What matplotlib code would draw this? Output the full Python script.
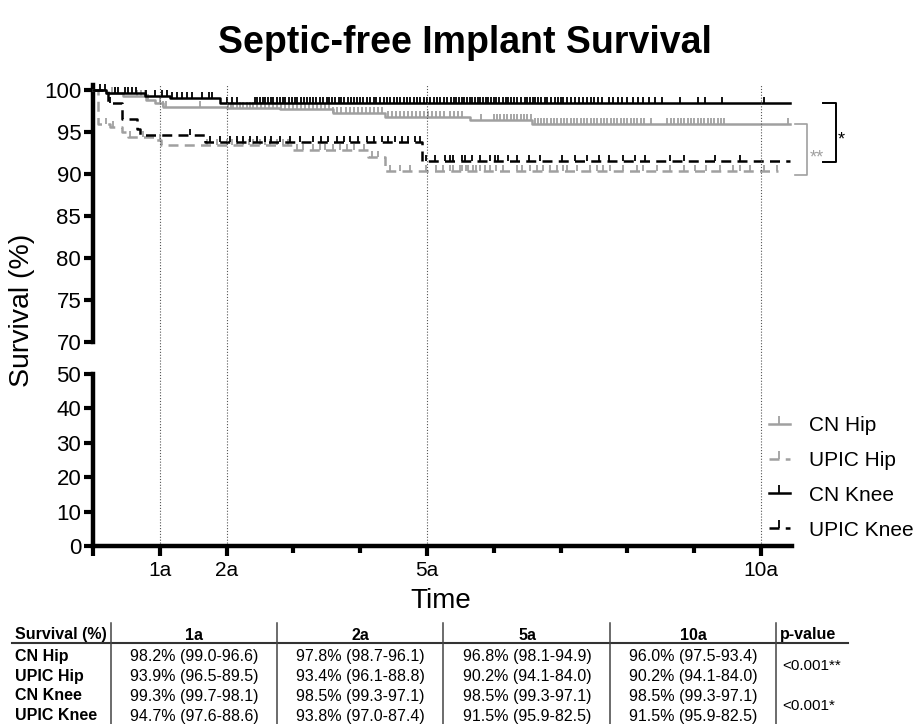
import matplotlib
matplotlib.use('Agg')
import matplotlib.pyplot as plt
from matplotlib.lines import Line2D
from matplotlib.transforms import blended_transform_factory
import numpy as np

plt.rcParams['font.family'] = ['Liberation Sans', 'DejaVu Sans']

# ---------------- data ----------------
groups = ['CN Hip', 'UPIC Hip', 'CN Knee', 'UPIC Knee']

cn_hip_t = [0, 0.20, 0.45, 0.80, 0.93, 1.05, 2.00, 2.80, 3.60, 4.37, 5.64, 6.57, 10.43]
cn_hip_s = [100, 99.6, 99.3, 98.8, 98.4, 98.0, 97.85, 97.7, 97.3, 96.8, 96.4, 96.0, 96.0]
cn_hip_c = [0.28, 0.33, 0.66, 0.72, 0.78, 0.83, 1.00, 1.05, 1.10, 1.60, 2.02, 2.06, 2.10, 2.15, 2.20,
            2.25, 2.30, 2.35, 2.40, 2.46, 2.52, 2.58, 2.64, 2.70, 2.76, 2.82, 2.88, 2.94, 3.00, 3.06,
            3.12, 3.18, 3.24, 3.30, 3.36, 3.42, 3.48, 3.54, 3.60, 3.66, 3.72, 3.78, 3.84, 3.90, 3.96,
            4.02, 4.08, 4.14, 4.20, 4.26, 4.32, 4.42, 4.48, 4.54, 4.60, 4.66, 4.72, 4.78, 4.84, 4.90,
            4.96, 5.02, 5.08, 5.14, 5.20, 5.26, 5.34, 5.40, 5.46, 5.52, 5.81, 6.00, 6.05, 6.10, 6.15,
            6.20, 6.25, 6.30, 6.35, 6.40, 6.45, 6.50, 6.55, 6.62, 6.66, 6.70, 6.75, 6.80, 6.85, 6.90,
            6.95, 7.00, 7.05, 7.10, 7.15, 7.20, 7.25, 7.30, 7.35, 7.40, 7.45, 7.50, 7.55, 7.60, 7.65,
            7.70, 7.75, 7.80, 7.85, 7.90, 7.95, 8.00, 8.05, 8.10, 8.15, 8.20, 8.25, 8.35, 8.60, 8.65,
            8.70, 8.75, 8.80, 8.85, 8.90, 8.95, 9.00, 9.05, 9.10, 9.15, 9.20, 9.25, 9.30, 9.35, 9.40,
            9.45, 10.40]

upic_hip_t = [0, 0.07, 0.25, 0.43, 0.52, 0.93, 1.02, 3.00, 4.12, 4.37, 10.25]
upic_hip_s = [100, 96.0, 95.6, 95.0, 94.4, 94.0, 93.4, 92.9, 92.0, 90.3, 90.3]
upic_hip_c = [0.20, 0.30, 0.55, 0.75, 1.00, 1.70, 1.85, 2.00, 2.08, 2.15, 2.25, 2.33, 2.40, 2.50, 2.57,
              2.65, 2.75, 2.85, 2.92, 3.05, 3.15, 3.30, 3.40, 3.47, 3.60, 3.70, 3.80, 3.90, 4.05, 4.17,
              4.27, 4.45, 4.60, 4.75, 4.99, 5.14, 5.24, 5.34, 5.39, 5.49, 5.52, 5.59, 5.62, 5.69, 5.74,
              5.79, 5.87, 5.94, 6.04, 6.14, 6.34, 6.42, 6.54, 6.64, 6.74, 6.84, 6.94, 7.04, 7.09, 7.24,
              7.44, 7.54, 7.64, 7.74, 7.94, 8.14, 8.24, 8.44, 8.64, 8.84, 9.01, 9.18, 9.38, 9.58, 9.69,
              9.83, 10.04, 10.24]

cn_knee_t = [0, 0.20, 0.78, 1.15, 1.90, 10.43]
cn_knee_s = [100, 99.7, 99.3, 99.0, 98.5, 98.5]
cn_knee_c = [0.10, 0.18, 0.33, 0.38, 0.48, 0.53, 0.58, 0.65, 0.80, 0.93, 1.03, 1.11, 1.18, 1.25, 1.33,
             1.40, 1.48, 1.63, 1.73, 1.78, 2.00, 2.08, 2.15, 2.42, 2.46, 2.50, 2.55, 2.58, 2.62, 2.66,
             2.70, 2.75, 2.80, 2.84, 2.88, 2.93, 2.98, 3.02, 3.06, 3.12, 3.16, 3.20, 3.25, 3.30, 3.34,
             3.40, 3.45, 3.50, 3.54, 3.58, 3.63, 3.68, 3.72, 3.76, 3.82, 3.86, 3.90, 3.95, 4.00, 4.04,
             4.10, 4.14, 4.20, 4.24, 4.30, 4.35, 4.40, 4.45, 4.50, 4.55, 4.60, 4.65, 4.70, 4.75, 4.80,
             4.85, 4.90, 4.95, 5.00, 5.05, 5.10, 5.15, 5.20, 5.25, 5.30, 5.36, 5.40, 5.44, 5.48, 5.52,
             5.56, 5.60, 5.64, 5.68, 5.72, 5.76, 5.80, 5.84, 5.88, 5.92, 5.96, 6.00, 6.04, 6.08, 6.14,
             6.18, 6.22, 6.26, 6.30, 6.34, 6.40, 6.46, 6.50, 6.54, 6.58, 6.62, 6.66, 6.70, 6.76, 6.80,
             6.86, 6.92, 6.96, 7.00, 7.04, 7.10, 7.16, 7.22, 7.28, 7.34, 7.40, 7.46, 7.50, 7.56, 7.62,
             7.72, 7.78, 7.86, 7.92, 8.00, 8.08, 8.16, 8.24, 8.32, 8.42, 8.52, 8.79, 9.06, 9.16, 9.41,
             10.04]

upic_knee_t = [0, 0.22, 0.44, 0.66, 0.70, 1.68, 4.92, 10.43]
upic_knee_s = [100, 98.4, 96.5, 95.4, 94.7, 93.8, 91.5, 91.5]
upic_knee_c = [0.25, 1.45, 1.75, 1.90, 2.05, 2.15, 2.25, 2.35, 2.45, 2.57, 2.67, 2.80, 2.95, 3.10, 3.30,
               3.42, 3.52, 3.65, 3.75, 3.85, 3.97, 4.10, 4.20, 4.32, 4.42, 4.52, 4.62, 4.72, 4.82, 4.90,
               4.99, 5.12, 5.27, 5.34, 5.39, 5.52, 5.57, 5.67, 5.79, 5.94, 6.02, 6.07, 6.22, 6.34, 6.52,
               6.69, 7.02, 7.22, 7.40, 7.57, 7.72, 7.94, 8.12, 8.27, 8.64, 8.84, 9.31, 9.69]

x_major = [0, 1, 2, 5, 10]
x_major_labels = ['', '1a', '2a', '5a', '10a']
x_minor = [3, 4, 6, 7, 8, 9]
y_upper_ticks = [70, 75, 80, 85, 90, 95, 100]
y_lower_ticks = [0, 10, 20, 30, 40, 50]

table_cols = ['Survival (%)', '1a', '2a', '5a', '10a', 'p-value']
table_rows = [
    ['CN Hip', '98.2% (99.0-96.6)', '97.8% (98.7-96.1)', '96.8% (98.1-94.9)', '96.0% (97.5-93.4)'],
    ['UPIC Hip', '93.9% (96.5-89.5)', '93.4% (96.1-88.8)', '90.2% (94.1-84.0)', '90.2% (94.1-84.0)'],
    ['CN Knee', '99.3% (99.7-98.1)', '98.5% (99.3-97.1)', '98.5% (99.3-97.1)', '98.5% (99.3-97.1)'],
    ['UPIC Knee', '94.7% (97.6-88.6)', '93.8% (97.0-87.4)', '91.5% (95.9-82.5)', '91.5% (95.9-82.5)'],
]
p_values = ['<0.001**', '<0.001*']

# ---------------- figure ----------------
W, H = 921, 724
fig = plt.figure(figsize=(W / 100, H / 100), dpi=100)

def fx(px):
    return px / W

def fy(py):
    return 1 - py / H

X0, X1 = 93, 792
PX_PER_YEAR = 66.8
XMAX = (X1 - X0) / PX_PER_YEAR
UP_TOP, UP_70 = 85, 342
LOW_50, LOW_0 = 374, 546

ax_up = fig.add_axes([fx(X0), fy(UP_70), (X1 - X0) / W, (UP_70 - UP_TOP) / H])
ax_lo = fig.add_axes([fx(X0), fy(LOW_0), (X1 - X0) / W, (LOW_0 - LOW_50) / H])
for a in (ax_up, ax_lo):
    a.set_facecolor('none')
    a.set_xlim(0, XMAX)
    for s in ('top', 'right'):
        a.spines[s].set_visible(False)
    a.spines['left'].set_linewidth(3.2)
    a.spines['bottom'].set_linewidth(3.2)
    a.tick_params(axis='y', which='both', direction='out', length=6.5, width=3.0, labelsize=16, pad=2)

ax_up.set_ylim(70, 70 + (UP_70 - UP_TOP) / 8.4)
ax_up.spines['bottom'].set_visible(False)
ax_up.set_xticks([])
ax_up.set_yticks(y_upper_ticks)

ax_lo.set_ylim(0, 50)
ax_lo.set_yticks(y_lower_ticks)
ax_lo.set_xticks(x_major)
ax_lo.set_xticklabels(x_major_labels)
ax_lo.set_xticks(x_minor, minor=True)
ax_lo.tick_params(axis='x', which='major', direction='out', length=7.5, width=3.0, labelsize=15, pad=3)
ax_lo.tick_params(axis='x', which='minor', direction='out', length=5, width=3.0)

# dotted reference lines through both panels
tr = blended_transform_factory(ax_lo.transData, fig.transFigure)
for xv in [1, 2, 5, 10]:
    ax_lo.add_line(Line2D([xv, xv], [fy(LOW_0), fy(UP_TOP)], transform=tr, color='#555555',
                          lw=0.8, ls=(0, (1, 1.6)), clip_on=False, zorder=0))

GRAY = '#A0A0A0'
series = [
    (cn_hip_t, cn_hip_s, cn_hip_c, GRAY, '-', 4.0),
    (upic_hip_t, upic_hip_s, upic_hip_c, GRAY, (0, (4, 2.5)), 4.0),
    (cn_knee_t, cn_knee_s, cn_knee_c, 'black', '-', 4.5),
    (upic_knee_t, upic_knee_s, upic_knee_c, 'black', (0, (4, 2.5)), 4.0),
]
handles = []
for (t, s, c, col, ls, ms), name in zip(series, groups):
    t = np.asarray(t); s = np.asarray(s); c = np.asarray(c)
    ax_up.step(t, s, where='post', color=col, lw=1.8, ls=ls, clip_on=False, zorder=3)
    idx = np.searchsorted(t, c, side='right') - 1
    ax_up.plot(c, s[idx], ls='none', marker=2, ms=ms, mew=1.3, color=col, clip_on=False, zorder=3)
    handles.append(Line2D([], [], color=col, lw=1.8, ls=ls, marker=2, ms=6, mew=1.3))

# significance brackets
ax_up.plot([10.51, 10.69, 10.69, 10.51], [96.0, 96.0, 89.9, 89.9], color=GRAY, lw=1.2, clip_on=False)
ax_up.text(10.73, 91.4, '**', color=GRAY, fontsize=13, ha='left', va='baseline', clip_on=False)
ax_up.plot([10.93, 11.12, 11.12, 10.93], [98.5, 98.5, 91.4, 91.4], color='black', lw=1.4, clip_on=False)
ax_up.text(11.15, 93.5, '*', color='black', fontsize=13, ha='left', va='baseline', clip_on=False)

# legend
fig.legend(handles, groups, loc='upper left', bbox_to_anchor=(fx(769), fy(416)), frameon=False,
           fontsize=15, handlelength=1.0, handletextpad=0.9, labelspacing=0.76,
           borderpad=0, borderaxespad=0, numpoints=1)

# texts
fig.text(fx(465), fy(43), 'Septic-free Implant Survival', ha='center', va='center',
         fontsize=27, fontweight='bold')
fig.text(fx(22), fy(310), 'Survival (%)', rotation=90, ha='center', va='center', fontsize=20.5)
fig.text(fx(441), fy(601), 'Time', ha='center', va='center', fontsize=20)

# table
col_lines = [111, 277, 443, 610, 776]
col_centers = [194, 360, 527, 693]
fig.add_artist(Line2D([fx(12), fx(848)], [fy(643), fy(643)], color='#333333', lw=1.5))
for xv in col_lines:
    fig.add_artist(Line2D([fx(xv), fx(xv)], [fy(623), fy(724)], color='#444444', lw=1.1))
TFS = 11.5
fig.text(fx(15), fy(635), table_cols[0], ha='left', va='center', fontsize=TFS, fontweight='bold')
for xc, lab in zip(col_centers, table_cols[1:5]):
    fig.text(fx(xc), fy(635), lab, ha='center', va='center', fontsize=TFS, fontweight='bold')
fig.text(fx(780), fy(635), table_cols[5], ha='left', va='center', fontsize=TFS, fontweight='bold')
row_y = [656, 676, 696, 716]
for yv, row in zip(row_y, table_rows):
    fig.text(fx(15), fy(yv), row[0], ha='left', va='center', fontsize=TFS, fontweight='bold')
    for xc, val in zip(col_centers, row[1:]):
        fig.text(fx(xc), fy(yv), val, ha='center', va='center', fontsize=TFS)
fig.text(fx(782), fy(666), p_values[0], ha='left', va='center', fontsize=TFS - 0.5)
fig.text(fx(782), fy(706), p_values[1], ha='left', va='center', fontsize=TFS - 0.5)

fig.savefig('out.png', dpi=100)
